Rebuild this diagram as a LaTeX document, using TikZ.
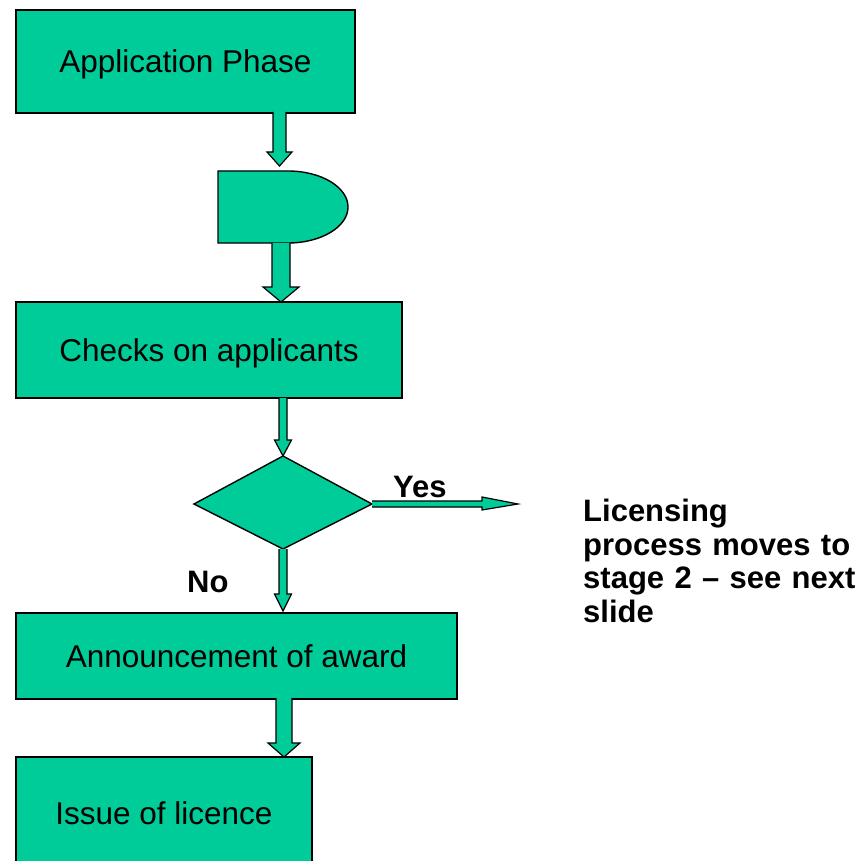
\documentclass[tikz,border=0pt]{standalone}
\usepackage{fontspec}
\setmainfont{Liberation Sans}
\begin{document}
\begin{tikzpicture}[x=1pt,y=-1pt,
  fc/.style={fill={rgb,255:red,0;green,204;blue,153},draw=black,line width=1.4pt,line join=miter},
  boxnode/.style={fc,rectangle,inner sep=0pt,font=\fontsize{31.5}{36}\selectfont,text height=22.7pt,text depth=0pt},
  lbl/.style={font=\bfseries\fontsize{31}{33.5}\selectfont,inner sep=0pt,anchor=base west}]
\path[use as bounding box] (0,0) rectangle (867,861);
\clip (0,0) rectangle (867,861);
% boxes
\node[boxnode,minimum width=339pt,minimum height=103pt] (app) at (185.5,61.5) {Application Phase};
\node[boxnode,minimum width=386pt,minimum height=96pt] (chk) at (209,350) {Checks on applicants};
\node[boxnode,minimum width=441pt,minimum height=86pt] (ann) at (236.5,656) {Announcement of award};
\node[boxnode,minimum width=296pt,minimum height=112pt] (iss) at (164,813) {Issue of licence};
% delay shape
\draw[fc] (218,171) coordinate (dl) -- (288,171) arc[start angle=90,end angle=-90,x radius=60,y radius=-36] -- (218,243) -- cycle;
\coordinate (dly) at (283,207);
% decision diamond
\draw[fc] (283,456) coordinate (dtop) -- (372,504) coordinate (dright) -- (283,549) coordinate (dbot) -- (194,504) -- cycle;
% block arrows (vertical)
\newcommand{\varrow}[6]{\draw[fc,line width=1.2pt] (#1-#4,#2) -- (#1-#4,#3-#6) -- (#1-#5,#3-#6) -- (#1,#3) -- (#1+#5,#3-#6) -- (#1+#4,#3-#6) -- (#1+#4,#2);}
\varrow{279.5}{112}{166}{6.5}{12.5}{14}
\varrow{281}{243}{302}{9}{18}{15}
\varrow{283}{398}{456}{4}{8.5}{16}
\varrow{283}{549}{611}{4}{8.5}{17}
\varrow{284}{698}{757}{8}{16}{14}
% yes arrow
\draw[fc,line width=1.2pt] (372,501) -- (482,501) -- (482,497) -- (518,504) -- (482,510) -- (482,507) -- (372,507);
% labels
\node[lbl] (yes) at (393,497) {Yes};
\node[lbl] (no) at (187,592) {No};
\node[lbl,align=left,anchor=north west,text width=290pt] (lic) at (583,499) {Licensing\\process moves to\\stage 2 -- see next\\slide};
\end{tikzpicture}
\end{document}
